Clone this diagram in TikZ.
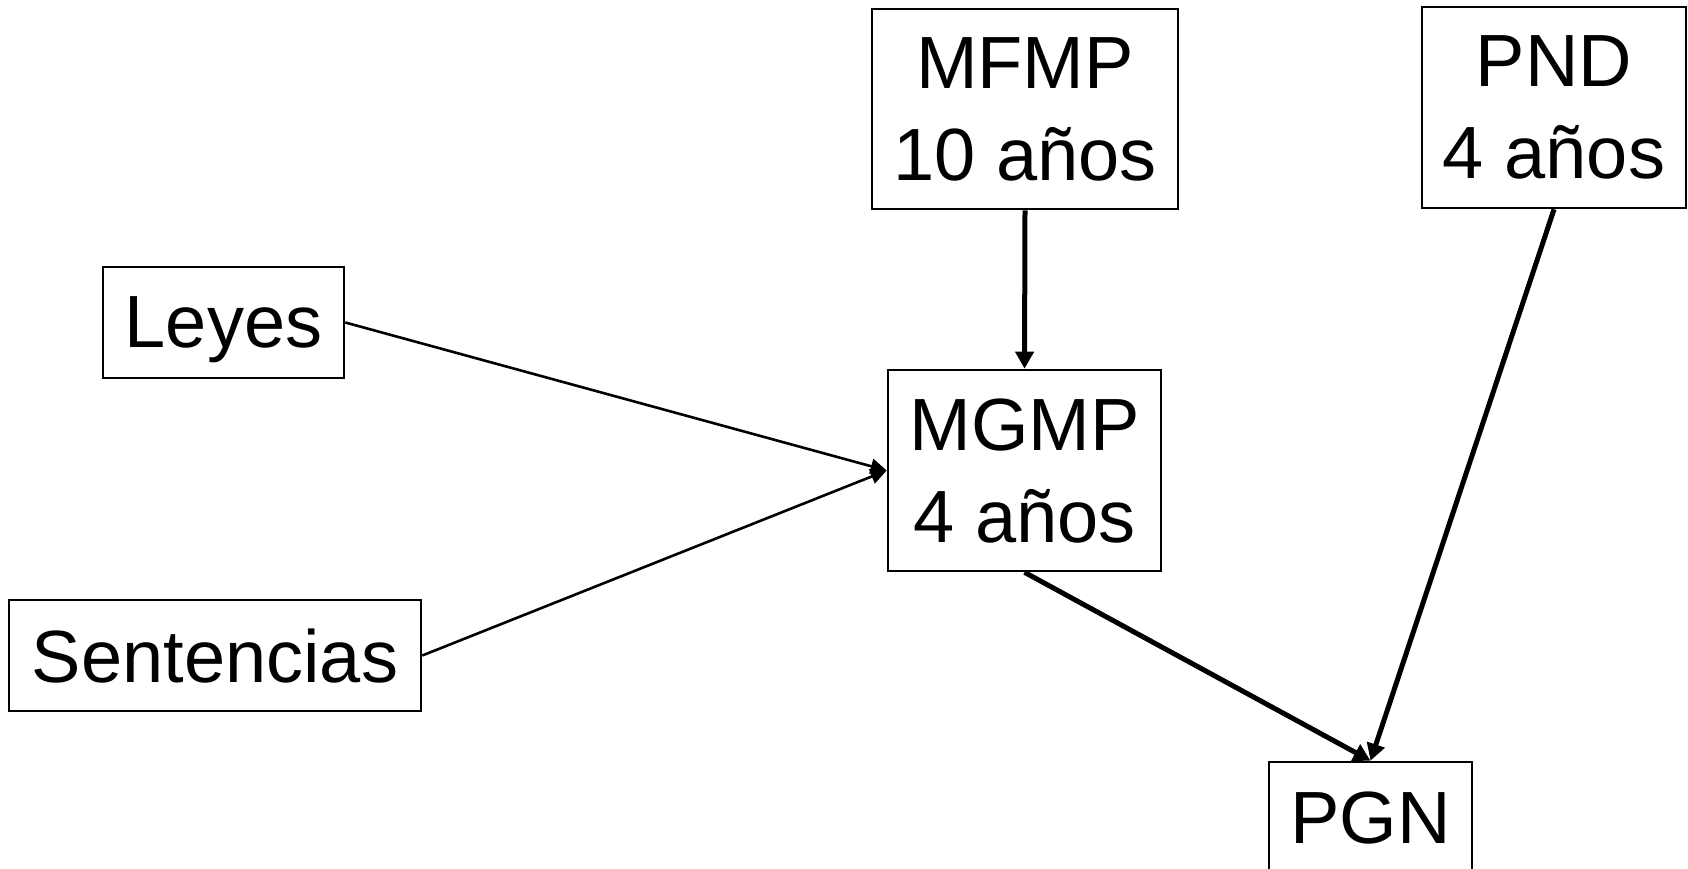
\documentclass[tikz,border=0pt]{standalone}
\usepackage{fontspec}
\setmainfont{Liberation Sans}
\usetikzlibrary{arrows.meta}
\begin{document}
\begin{tikzpicture}[x=1pt,y=-1pt,
  box/.style={draw=black,line width=2.6pt,rectangle,inner sep=0pt,align=center,
    font=\fontsize{74}{92}\selectfont,text depth=0pt},
  conthin/.style={draw=black,line width=2.6pt,-{Triangle[length=16pt,width=15pt]}},
  conthick/.style={draw=black,line width=5pt,-{Triangle[length=17pt,width=18pt]}}]
\useasboundingbox (0,0) rectangle (1688,869);
\node[box,minimum width=306pt,minimum height=200pt] (mfmp) at (1025,109) {MFMP\\10 años};
\node[box,minimum width=264pt,minimum height=201pt] (pnd) at (1554,107.5) {PND\\4 años};
\node[box,minimum width=273pt,minimum height=201pt] (mgmp) at (1024.5,470.5) {MGMP\\4 años};
\node[box,minimum width=241pt,minimum height=111pt] (leyes) at (223.5,322.5) {Leyes};
\node[box,minimum width=412pt,minimum height=111pt] (sent) at (215,655.5) {Sentencias};
\node[box,minimum width=203pt,minimum height=111pt] (pgn) at (1370.5,817.5) {PGN};
\draw[conthick] (mfmp.south) -- (mgmp.north);
\draw[conthin] (leyes.east) -- (mgmp.west);
\draw[conthin] (sent.east) -- (mgmp.west);
\draw[conthick] (mgmp.south) -- (pgn.north);
\draw[conthick] (pnd.south) -- (pgn.north);
\end{tikzpicture}
\end{document}
